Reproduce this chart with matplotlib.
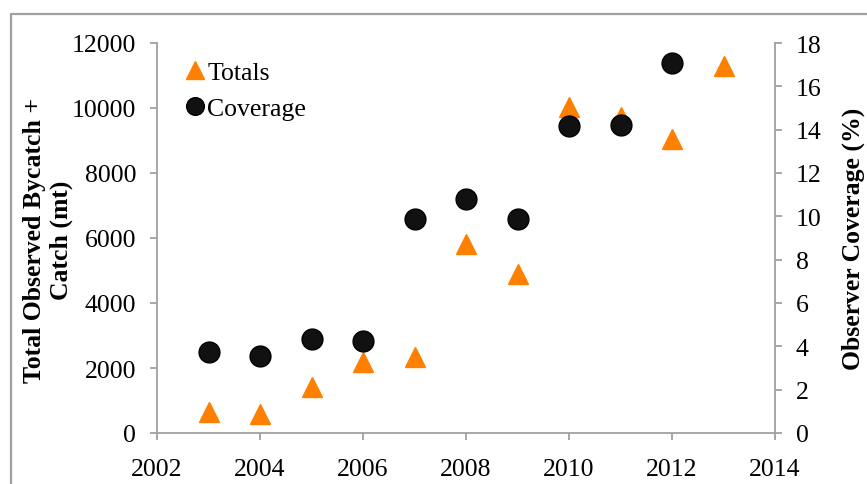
import matplotlib
matplotlib.use("Agg")
import matplotlib.pyplot as plt
from matplotlib.lines import Line2D

plt.rcParams['font.family'] = ['Liberation Serif', 'DejaVu Serif']

# data
years_totals = [2003, 2004, 2005, 2006, 2007, 2008, 2009, 2010, 2011, 2012, 2013]
totals = [640, 590, 1430, 2190, 2350, 5830, 4890, 10020, 9720, 9040, 11300]
years_coverage = [2003, 2004, 2005, 2006, 2007, 2008, 2009, 2010, 2011, 2012]
coverage = [3.74, 3.56, 4.36, 4.24, 9.9, 10.8, 9.9, 14.15, 14.23, 17.1]

x_ticks = [2002, 2004, 2006, 2008, 2010, 2012, 2014]
left_ticks = [0, 2000, 4000, 6000, 8000, 10000, 12000]
right_ticks = [0, 2, 4, 6, 8, 10, 12, 14, 16, 18]

orange = '#ff8000'
grey = '#a0a0a0'
fs = 18.5

fig = plt.figure(figsize=(8.67, 4.85), dpi=100)
ax = fig.add_axes([157 / 867, 1 - 434 / 485, 618 / 867, 390 / 485])
ax2 = ax.twinx()

ax.plot(years_totals, totals, linestyle='none', marker='^', ms=15,
        color=orange, mec=orange, label='Totals', zorder=3)
ax2.plot(years_coverage, coverage, linestyle='none', marker='o', ms=15,
         color='#111111', mec='#000000', mew=1, label='Coverage', zorder=4)

ax.set_xlim(2002, 2014)
ax.set_ylim(0, 12000)
ax2.set_ylim(0, 18)
ax.set_xticks(x_ticks)
ax.set_yticks(left_ticks)
ax2.set_yticks(right_ticks)

for a in (ax, ax2):
    for s in a.spines.values():
        s.set_visible(False)
    a.tick_params(labelsize=fs, color=grey, width=1.3, length=5, pad=10)
ax.spines['left'].set_visible(True)
ax.spines['bottom'].set_visible(True)
ax2.spines['right'].set_visible(True)
for s in (ax.spines['left'], ax.spines['bottom'], ax2.spines['right']):
    s.set_color(grey)
    s.set_linewidth(1.3)
ax.tick_params(axis='x', pad=13)

fig.text(48 / 867, 1 - 240 / 485, 'Total Observed Bycatch +\nCatch (mt)',
         rotation=90, ha='center', va='center', fontsize=fs,
         fontweight='bold', linespacing=1.25)
fig.text(853 / 867, 1 - 239 / 485, 'Observer Coverage (%)',
         rotation=90, ha='center', va='center', fontsize=fs,
         fontweight='bold')

# legend, handles from both axes
h1, l1 = ax.get_legend_handles_labels()
h2, l2 = ax2.get_legend_handles_labels()
leg = ax2.legend(h1 + h2, l1 + l2, loc='upper left',
                 bbox_to_anchor=((183 - 157) / 618, (434 - 62) / 390),
                 frameon=False, fontsize=fs, handlelength=0.9,
                 handletextpad=0.05, labelspacing=0.5, borderpad=0,
                 borderaxespad=0, markerscale=0.85)

# outer chart border (only top and left edges visible in the crop)
fig.add_artist(Line2D([11 / 867, 11 / 867, 1.0], [0.0, 1 - 15 / 485, 1 - 15 / 485],
                      color=grey, lw=1.6, transform=fig.transFigure))

fig.savefig('out.png', dpi=100)
